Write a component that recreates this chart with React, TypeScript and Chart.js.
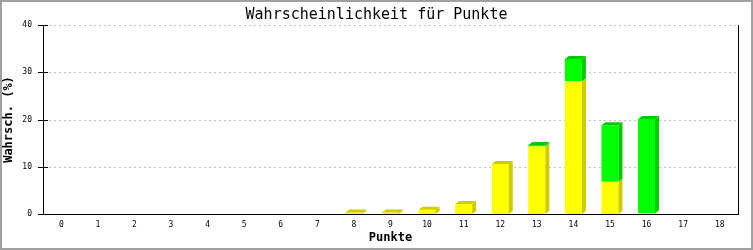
import React, { useEffect, useRef } from "react";
import { Chart, registerables } from "chart.js";

Chart.register(...registerables);

const categories = ["0", "1", "2", "3", "4", "5", "6", "7", "8", "9", "10", "11", "12", "13", "14", "15", "16", "17", "18"];
const yellowValues = [0, 0, 0, 0, 0, 0, 0, 0, 0.3, 0.3, 0.9, 2.1, 10.6, 14.3, 28.1, 6.8, 0.2, 0, 0];
const greenValues = [0, 0, 0, 0, 0, 0, 0, 0, 0, 0, 0, 0, 0, 0.3, 4.7, 12.0, 19.9, 0, 0];
const yTickValues = [0, 10, 20, 30, 40];

const titleText = "Wahrscheinlichkeit für Punkte";
const xTitle = "Punkte";
const yTitle = "Wahrsch. (%)";

const FRONT = ["#ffff00", "#00ff00"];
const SIDE = ["#cccc00", "#00cc00"];
const DX = 4;
const DY = 3;
const MONO = "'DejaVu Sans Mono', 'Liberation Mono', monospace";

const decor = {
  id: "decor",
  beforeDraw(chart: any) {
    const ctx = chart.ctx;
    ctx.save();
    ctx.fillStyle = "#ffffff";
    ctx.fillRect(0, 0, chart.width, chart.height);
    ctx.restore();
  },
  beforeDatasetsDraw(chart: any) {
    const { ctx, chartArea: a, scales } = chart;
    const ys = scales.y;
    ctx.save();
    ctx.strokeStyle = "#c0c0c0";
    ctx.lineWidth = 1;
    ctx.setLineDash([2, 3]);
    for (const t of ys.ticks) {
      if (t.value === 0) continue;
      const py = Math.round(ys.getPixelForValue(t.value)) + 0.5;
      ctx.beginPath();
      ctx.moveTo(a.left + 1, py);
      ctx.lineTo(a.right, py);
      ctx.stroke();
    }
    ctx.restore();
  },
  afterDatasetsDraw(chart: any) {
    const { ctx, chartArea: a, scales } = chart;
    const series = [yellowValues, greenValues];
    const metas = series.map((_, d) => chart.getDatasetMeta(d));
    ctx.save();
    for (let i = 0; i < categories.length; i++) {
      let topDs = -1;
      for (let d = 0; d < series.length; d++) if (series[d][i] > 0) topDs = d;
      for (let d = 0; d < series.length; d++) {
        if (!(series[d][i] > 0)) continue;
        const el = metas[d].data[i];
        const { x, y, base, width } = el.getProps(["x", "y", "base", "width"], true);
        const L = x - width / 2;
        const R = x + width / 2;
        ctx.fillStyle = SIDE[d];
        ctx.beginPath();
        ctx.moveTo(R, y);
        ctx.lineTo(R + DX, y - DY);
        ctx.lineTo(R + DX, base - DY);
        ctx.lineTo(R, base);
        ctx.closePath();
        ctx.fill();
        if (d === topDs) {
          ctx.beginPath();
          ctx.moveTo(L, y);
          ctx.lineTo(L + DX, y - DY);
          ctx.lineTo(R + DX, y - DY);
          ctx.lineTo(R, y);
          ctx.closePath();
          ctx.fill();
        }
      }
    }
    // axes
    ctx.strokeStyle = "#000000";
    ctx.lineWidth = 1;
    ctx.setLineDash([]);
    ctx.beginPath();
    ctx.moveTo(a.left + 0.5, a.top);
    ctx.lineTo(a.left + 0.5, a.bottom + 1);
    ctx.moveTo(a.right + 0.5, a.top);
    ctx.lineTo(a.right + 0.5, a.bottom + 1);
    ctx.moveTo(a.left, a.bottom + 0.5);
    ctx.lineTo(a.right + 1, a.bottom + 0.5);
    const ys = scales.y;
    for (const t of ys.ticks) {
      const py = Math.round(ys.getPixelForValue(t.value)) + 0.5;
      ctx.moveTo(a.left - 5, py);
      ctx.lineTo(a.left + (t.value === 0 ? 0 : 5), py);
    }
    ctx.stroke();
    // frame
    ctx.strokeStyle = "#a0a0a0";
    ctx.lineWidth = 2;
    ctx.strokeRect(1, 1, chart.width - 2, chart.height - 2);
    ctx.restore();
  },
};

export default function App() {
  const ref = useRef<HTMLCanvasElement | null>(null);
  useEffect(() => {
    if (!ref.current) return;
    const chart = new Chart(ref.current, {
      type: "bar",
      data: {
        labels: categories,
        datasets: [
          { label: "A", data: yellowValues, backgroundColor: FRONT[0], borderWidth: 0, barThickness: 17, inflateAmount: 0 },
          { label: "B", data: greenValues, backgroundColor: FRONT[1], borderWidth: 0, barThickness: 17, inflateAmount: 0 },
        ],
      },
      options: {
        responsive: false,
        animation: false,
        devicePixelRatio: 1,
        layout: { padding: 0 },
        plugins: {
          legend: { display: false },
          tooltip: { enabled: false },
          title: {
            display: true,
            text: titleText,
            color: "#000000",
            font: { family: MONO, size: 15, weight: "normal" },
            padding: { top: 6, bottom: 1 },
          },
        },
        scales: {
          x: {
            stacked: true,
            grid: { display: false, drawTicks: false },
            border: { display: false },
            ticks: { color: "#000000", font: { family: MONO, size: 8 }, padding: 6, maxRotation: 0, autoSkip: false },
            title: { display: true, text: xTitle, color: "#000000", font: { family: MONO, size: 12, weight: "bold" }, padding: { top: 4, bottom: 5 } },
            afterFit: (s: any) => { s.height = 36; },
          },
          y: {
            stacked: true,
            min: 0,
            max: 40,
            grid: { display: false, drawTicks: false },
            border: { display: false },
            afterBuildTicks: (s: any) => { s.ticks = yTickValues.map((v) => ({ value: v })); },
            ticks: { color: "#000000", font: { family: MONO, size: 8 }, padding: 11 },
            title: { display: true, text: yTitle, color: "#000000", font: { family: MONO, size: 12, weight: "bold" }, padding: { top: 2, bottom: 2 } },
            afterFit: (s: any) => { s.width = 43; },
          },
          y2: {
            type: "linear",
            position: "right",
            display: true,
            grid: { display: false, drawTicks: false },
            border: { display: false },
            ticks: { display: false },
            afterFit: (s: any) => { s.width = 15; },
          },
        },
      },
      plugins: [decor],
    } as any);
    return () => chart.destroy();
  }, []);
  return (
    <div style={{ position: "absolute", left: 0, top: 0, width: 753, height: 250 }}>
      <canvas ref={ref} width={753} height={250} style={{ display: "block" }} />
    </div>
  );
}
